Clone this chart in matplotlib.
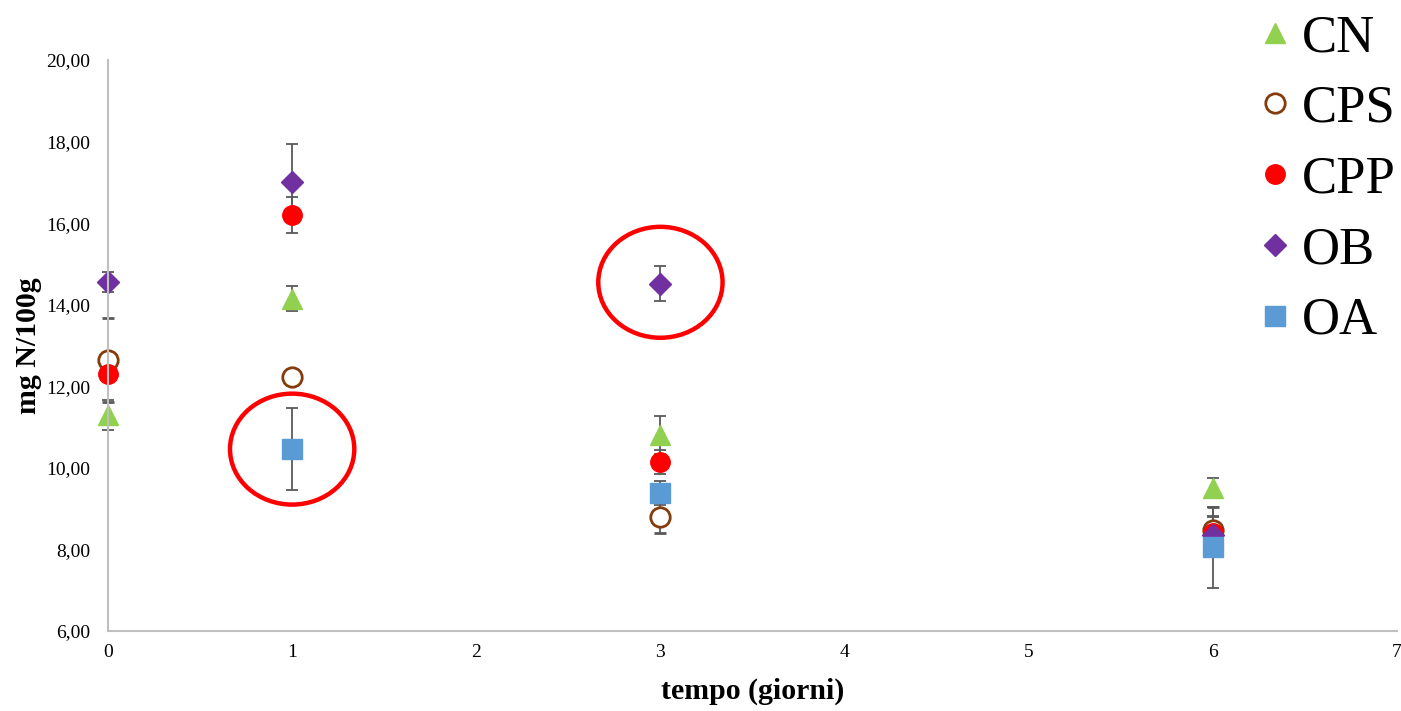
import matplotlib.pyplot as plt
from matplotlib.patches import Ellipse
from matplotlib.ticker import FuncFormatter
import numpy as np

plt.rcParams['font.family'] = ['Liberation Serif', 'DejaVu Serif']

days = [0, 1, 3, 6]

cn = [11.30, 14.15, 10.80, 9.51]
cn_err = [0.37, 0.30, 0.47, 0.24]
cps = [12.64, 12.23, 8.80, 8.48]
cps_err = [1.03, 0.10, 0.40, 0.57]
cpp = [12.30, 16.21, 10.15, 8.40]
cpp_err = [0.20, 0.44, 0.30, 0.42]
ob = [14.56, 17.01, 14.52, 8.35]
ob_err = [0.24, 0.93, 0.42, 0.45]
oa = [np.nan, 10.46, 9.38, 8.05]
oa_err = [np.nan, 1.00, 0.30, 1.00]

# circled points (day, value)
highlights = [(1, 10.46), (3, 14.55)]

fig = plt.figure(figsize=(14.01, 7.11), dpi=100)
ax = fig.add_axes([0.0771, 0.1125, 0.9200, 0.8031])

err_kw = dict(ecolor='#595959', elinewidth=1.3, capsize=4, capthick=1.3, linestyle='none')

conts = []
conts.append(ax.errorbar(days, cn, yerr=cn_err, marker='^', ms=15, color='#92D050', mec='#92D050', label='CN', **err_kw))
conts.append(ax.errorbar(days, cps, yerr=cps_err, marker='o', ms=14, color='#843C0C', mfc='white', mew=2, label='CPS', **err_kw))
conts.append(ax.errorbar(days, cpp, yerr=cpp_err, marker='o', ms=14, color='#FF0000', label='CPP', **err_kw))
conts.append(ax.errorbar(days, ob, yerr=ob_err, marker='D', ms=11, color='#7030A0', label='OB', **err_kw))
conts.append(ax.errorbar(days, oa, yerr=oa_err, marker='s', ms=14, color='#5B9BD5', label='OA', **err_kw))
for c in conts:
    for a in c.get_children():
        a.set_clip_on(False)

for hx, hy in highlights:
    ax.add_patch(Ellipse((hx, hy), 0.675, 2.72, fill=False, edgecolor='#FF0000', lw=3.2, zorder=5))

ax.set_xlim(0, 7)
ax.set_ylim(6, 20)
ax.set_xticks(range(0, 8))
ax.set_yticks(range(6, 21, 2))
ax.yaxis.set_major_formatter(FuncFormatter(lambda v, p: f'{v:.2f}'.replace('.', ',')))
ax.tick_params(length=0, labelsize=14)
ax.tick_params(axis='y', pad=13)
ax.tick_params(axis='x', pad=9)

for s in ['top', 'right']:
    ax.spines[s].set_visible(False)
for s in ['left', 'bottom']:
    ax.spines[s].set_color('#BFBFBF')
    ax.spines[s].set_linewidth(1.5)

ax.set_xlabel('tempo (giorni)', fontsize=21.5, fontweight='bold', labelpad=12)
ax.set_ylabel('mg N/100g', fontsize=21.5, fontweight='bold', labelpad=3)

handles, labels = ax.get_legend_handles_labels()
handles = [h[0] for h in handles]
fig.legend(handles, labels, loc='upper left', bbox_to_anchor=(0.900, 0.980), frameon=False,
           fontsize=38, handlelength=0.55, handletextpad=0.22, labelspacing=0.43,
           borderpad=0, borderaxespad=0, markerscale=1.0)

fig.savefig('out.png', dpi=100)
